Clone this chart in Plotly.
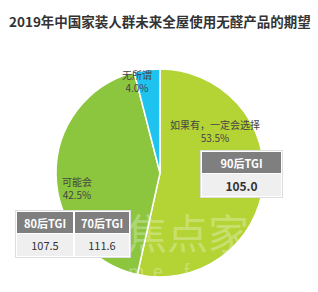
import plotly.graph_objects as go

title = "2019年中国家装人群未来全屋使用无醛产品的期望"
labels = ["如果有，一定会选择", "可能会", "无所谓"]
values = [53.5, 42.5, 4.0]
colors = ["#b4d334", "#8cc63f", "#1ec3ef"]

tgi_groups = ["90后TGI", "80后TGI", "70后TGI"]
tgi_values = [105.0, 107.5, 111.6]

W, H = 318, 292
FONT = "Noto Sans CJK SC"


def px(x):
    return x / W


def py(y):
    return 1 - y / H


fig = go.Figure()
cx, cy, r = 160, 173, 104
fig.add_trace(go.Pie(
    values=values, labels=labels, sort=False, direction="clockwise", rotation=0,
    marker=dict(colors=colors, line=dict(color="white", width=1.5)),
    textinfo="none", textposition="none", hoverinfo="label+percent", showlegend=False,
    domain=dict(x=[px(cx - r), px(cx + r)], y=[py(cy + r), py(cy - r)]),
))

ann = []
# title
ann.append(dict(text="<b>" + title + "</b>", x=px(160), y=py(21), xref="paper", yref="paper",
                xanchor="center", yanchor="middle",
                showarrow=False, font=dict(family=FONT, size=13.5, color="#333333")))
# slice labels
label_pos = [(215, 131), (77, 188), (137, 81)]
for lab, val, (lx, ly) in zip(labels, values, label_pos):
    ann.append(dict(text=f"{lab}<br>{val:.1f}%", x=px(lx), y=py(ly), xref="paper", yref="paper",
                    xanchor="center", yanchor="middle",
                    showarrow=False, font=dict(family=FONT, size=10, color="#444444"),
                    align="center"))
# watermark
ann.append(dict(text="焦点家", x=px(187), y=py(231), xref="paper", yref="paper", xanchor="center",
                yanchor="middle", showarrow=False,
                font=dict(family=FONT, size=41, color="rgba(255,255,255,0.3)")))
ann.append(dict(text="h  o  m  e  .  f  o  c  u  s", x=px(88), y=py(270), xref="paper",
                yref="paper", xanchor="left", yanchor="middle", showarrow=False,
                font=dict(family=FONT, size=18, color="rgba(255,255,255,0.3)")))


def box(x0, y0, w, h, bg, text="", font=None, border=None):
    d = dict(text=text, x=px(x0), y=py(y0), xref="paper", yref="paper", xanchor="left",
             yanchor="top", showarrow=False, width=w, height=h, bgcolor=bg, borderpad=0,
             borderwidth=0, align="center", valign="middle")
    if font:
        d["font"] = font
    if border:
        d["bordercolor"] = border
        d["borderwidth"] = 1
        d["width"] = w - 2
        d["height"] = h - 2
    ann.append(d)


hdr_font = dict(family=FONT, size=11, color="white")
# 90 table
box(200, 150, 83, 48, "white", border="#dddddd")
box(202, 152, 79, 21, "#7f7f7f", f"<b>{tgi_groups[0]}</b>", hdr_font)
box(202, 174, 79, 22, "#efefef", f"<b>{tgi_values[0]:.1f}</b>",
    dict(family=FONT, size=12, color="#333333"))
# 80/70 table
box(15, 210, 116, 48, "white", border="#dddddd")
cols = [(17, 56), (75, 54)]
for (x0, w), g, v in zip(cols, tgi_groups[1:], tgi_values[1:]):
    box(x0, 212, w, 21, "#7f7f7f", f"<b>{g}</b>", hdr_font)
    box(x0, 234, w, 22, "#efefef", f"{v:.1f}", dict(family=FONT, size=11, color="#333333"))

fig.update_layout(width=W, height=H, margin=dict(l=0, r=0, t=0, b=0),
                  paper_bgcolor="white", plot_bgcolor="white", annotations=ann)
fig.write_html("out.html")
